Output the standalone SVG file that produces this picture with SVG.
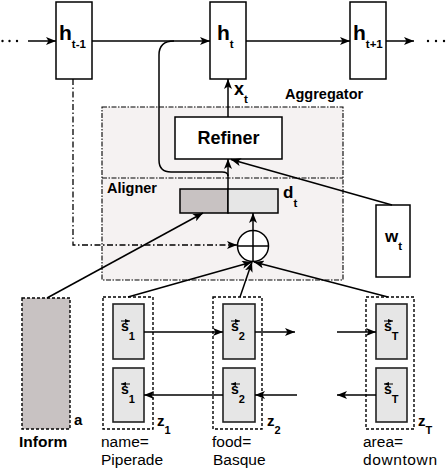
<svg xmlns="http://www.w3.org/2000/svg" width="446" height="468" viewBox="0 0 446 468">
<style>
.box{fill:#fff;stroke:#000;stroke-width:1.5}
.s{fill:#e6e6e6;stroke:#222;stroke-width:1.6}
.dz{fill:none;stroke:#000;stroke-width:1.4;stroke-dasharray:3 2}
.ln{fill:none;stroke:#000;stroke-width:1.5}
.dd{fill:none;stroke:#000;stroke-width:1.3;stroke-dasharray:6 2.5 1.5 2.5}
.b{font-family:'Liberation Sans',Arial,Helvetica,sans-serif;font-weight:bold;fill:#000}
.r{font-family:'Liberation Sans',Arial,Helvetica,sans-serif;fill:#000}
.dot{fill:#000}
</style>
<defs>
<marker id="ah" viewBox="0 0 10 8" refX="10" refY="4" markerWidth="10" markerHeight="8" markerUnits="userSpaceOnUse" orient="auto"><path d="M0,0 L10,4 L0,8 L2.5,4 z" fill="#000"/></marker>
<marker id="sm" viewBox="0 0 10 8" refX="10" refY="4" markerWidth="5" markerHeight="4" markerUnits="userSpaceOnUse" orient="auto"><path d="M0,0 L10,4 L0,8 z" fill="#000"/></marker>
</defs>

<g id="aggregator">
<rect x="102" y="107" width="241" height="173" fill="#f5f2f2" stroke="#000" stroke-width="1.1" stroke-dasharray="5 1.5 1.5 1.5"/>
<line x1="102" y1="178" x2="343" y2="178" stroke="#000" stroke-width="1.1" stroke-dasharray="5 1.5 1.5 1.5"/>
<text x="285" y="99" class="b" font-size="14.5">Aggregator</text>
<text x="107" y="193" class="b" font-size="14.5">Aligner</text>
</g>

<g id="h_tm1">
<rect x="56" y="2" width="36" height="77" class="box"/>
<text x="59" y="40" class="b" font-size="21">h<tspan font-size="11.5" dy="8">t-1</tspan></text>
</g>
<g id="h_t">
<rect x="210" y="2" width="36" height="77" class="box"/>
<text x="217" y="40" class="b" font-size="21">h<tspan font-size="11.5" dy="8">t</tspan></text>
</g>
<g id="h_tp1">
<rect x="350" y="2" width="36" height="77" class="box"/>
<text x="353" y="40" class="b" font-size="21">h<tspan font-size="11.5" dy="8">t+1</tspan></text>
</g>

<g id="dots">
<circle cx="2.5" cy="41" r="1.2" class="dot"/>
<circle cx="9.5" cy="41" r="1.2" class="dot"/>
<circle cx="17" cy="41" r="1.2" class="dot"/>
<circle cx="428" cy="41" r="1.2" class="dot"/>
<circle cx="436" cy="41" r="1.2" class="dot"/>
<circle cx="444" cy="41" r="1.2" class="dot"/>
</g>

<g id="x_t_label">
<text x="234" y="95" class="b" font-size="18">x<tspan font-size="11.5" dy="8">t</tspan></text>
</g>

<g id="refiner">
<rect x="175" y="117" width="107" height="42" class="box"/>
<text x="228.5" y="144" class="b" font-size="18" text-anchor="middle">Refiner</text>
</g>

<g id="d_t">
<rect x="180" y="189" width="48" height="24" fill="#c8c2c2" stroke="#000" stroke-width="1.5"/>
<rect x="228" y="189" width="50" height="24" fill="#e6e6e6" stroke="#000" stroke-width="1.5"/>
<text x="283" y="198" class="b" font-size="17">d<tspan font-size="11.5" dy="9">t</tspan></text>
</g>

<g id="sum">
<circle cx="253" cy="246" r="15.5" fill="#fff" stroke="#000" stroke-width="1.5"/>
<line x1="237.5" y1="246" x2="268.5" y2="246" class="ln"/>
<line x1="253" y1="230.5" x2="253" y2="261.5" class="ln"/>
</g>

<g id="w_t">
<rect x="376" y="205" width="34" height="72" class="box"/>
<text x="385" y="242" class="b" font-size="17">w<tspan font-size="11.5" dy="8">t</tspan></text>
</g>

<g id="inform">
<rect x="22" y="298" width="48" height="131" fill="#c8c2c2" stroke="#000" stroke-width="1.4" stroke-dasharray="3 2"/>
<text x="74" y="425" class="b" font-size="15">a</text>
<text x="19" y="447" class="b" font-size="15.5">Inform</text>
</g>

<g id="z_1">
<rect x="103" y="297" width="50" height="132" class="dz"/>
<rect x="113" y="304" width="31" height="55" class="s"/>
<rect x="113" y="368" width="31" height="54" class="s"/>
<line x1="121" y1="321" x2="130" y2="321" stroke="#000" stroke-width="1" marker-end="url(#sm)"/>
<text x="121" y="331" class="b" font-size="14">s<tspan font-size="11" dy="9">1</tspan></text>
<line x1="130" y1="384" x2="121" y2="384" stroke="#000" stroke-width="1" marker-end="url(#sm)"/>
<text x="121" y="394" class="b" font-size="14">s<tspan font-size="11" dy="9">1</tspan></text>
<text x="157" y="426" class="b" font-size="15">z<tspan font-size="11" dy="8">1</tspan></text>
<text x="101" y="447" class="r" font-size="15.5">name=</text>
<text x="101" y="465" class="r" font-size="15.5">Piperade</text>
</g>

<g id="z_2">
<rect x="213" y="297" width="49" height="132" class="dz"/>
<rect x="223" y="304" width="32" height="55" class="s"/>
<rect x="223" y="368" width="32" height="54" class="s"/>
<line x1="231" y1="321" x2="240" y2="321" stroke="#000" stroke-width="1" marker-end="url(#sm)"/>
<text x="231" y="331" class="b" font-size="14">s<tspan font-size="11" dy="9">2</tspan></text>
<line x1="240" y1="384" x2="231" y2="384" stroke="#000" stroke-width="1" marker-end="url(#sm)"/>
<text x="231" y="394" class="b" font-size="14">s<tspan font-size="11" dy="9">2</tspan></text>
<text x="267" y="426" class="b" font-size="15">z<tspan font-size="11" dy="8">2</tspan></text>
<text x="212" y="447" class="r" font-size="15.5">food=</text>
<text x="213" y="465" class="r" font-size="15.5">Basque</text>
</g>

<g id="z_T">
<rect x="366" y="297" width="48" height="132" class="dz"/>
<rect x="376" y="304" width="31" height="55" class="s"/>
<rect x="376" y="368" width="31" height="54" class="s"/>
<line x1="384" y1="321" x2="393" y2="321" stroke="#000" stroke-width="1" marker-end="url(#sm)"/>
<text x="384" y="331" class="b" font-size="14">s<tspan font-size="11" dy="9">T</tspan></text>
<line x1="393" y1="384" x2="384" y2="384" stroke="#000" stroke-width="1" marker-end="url(#sm)"/>
<text x="384" y="394" class="b" font-size="14">s<tspan font-size="11" dy="9">T</tspan></text>
<text x="418" y="426" class="b" font-size="15">z<tspan font-size="11" dy="8">T</tspan></text>
<text x="363" y="447" class="r" font-size="15.5">area=</text>
<text x="363" y="465" class="r" font-size="15.5" letter-spacing="0.6">downtown</text>
</g>

<g id="connectors">
<line x1="28" y1="41" x2="56" y2="41" class="ln" marker-end="url(#ah)"/>
<line x1="92" y1="41" x2="210" y2="41" class="ln" marker-end="url(#ah)"/>
<line x1="246" y1="41" x2="350" y2="41" class="ln" marker-end="url(#ah)"/>
<line x1="386" y1="41" x2="414" y2="41" class="ln" marker-end="url(#ah)"/>
<path d="M228,176 Q228,172 222,172 L171,172 Q159,172 159,160 L159,55 Q159,41 174,41" class="ln"/>
<line x1="228" y1="117" x2="228" y2="79" class="ln" marker-end="url(#ah)"/>
<line x1="228" y1="189" x2="228" y2="159" class="ln" marker-end="url(#ah)"/>
<line x1="392" y1="205" x2="231" y2="159.5" class="ln" marker-end="url(#ah)"/>
<path d="M73,79 V245 H237" class="dd" marker-end="url(#ah)"/>
<line x1="253" y1="230.5" x2="253" y2="213" class="ln" marker-end="url(#ah)"/>
<line x1="47" y1="298" x2="203" y2="213" class="ln" marker-end="url(#ah)"/>
<line x1="128" y1="297" x2="252" y2="262" class="ln" marker-end="url(#ah)"/>
<line x1="240" y1="297" x2="252" y2="262" class="ln" marker-end="url(#ah)"/>
<line x1="388" y1="297" x2="254" y2="262" class="ln" marker-end="url(#ah)"/>
<line x1="144" y1="332" x2="223" y2="332" class="ln" marker-end="url(#ah)"/>
<line x1="255" y1="332" x2="295" y2="332" class="ln" marker-end="url(#ah)"/>
<line x1="337" y1="332" x2="376" y2="332" class="ln" marker-end="url(#ah)"/>
<line x1="223" y1="395" x2="144" y2="395" class="ln" marker-end="url(#ah)"/>
<line x1="297" y1="395" x2="255" y2="395" class="ln" marker-end="url(#ah)"/>
<line x1="376" y1="395" x2="337" y2="395" class="ln" marker-end="url(#ah)"/>
</g>
</svg>
